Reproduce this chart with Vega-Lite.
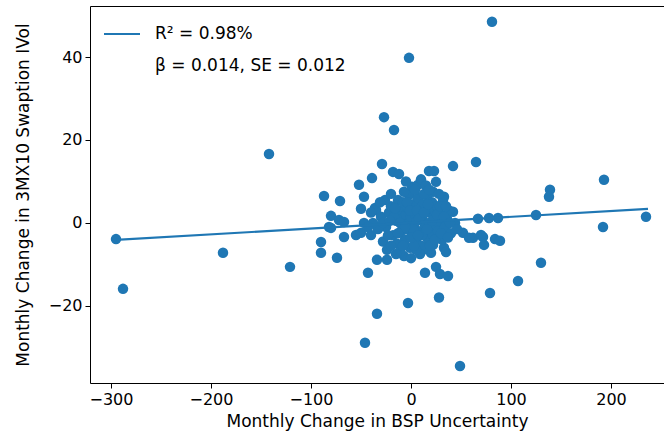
{
  "$schema": "https://vega.github.io/schema/vega-lite/v6.json",
  "autosize": "none",
  "width": 574,
  "height": 377,
  "padding": {"left": 90, "top": 6, "right": 0, "bottom": 56},
  "background": "white",
  "config": {
    "view": {"stroke": null},
    "axis": {
      "labelFont": "DejaVu Sans", "labelFontSize": 16, "labelColor": "#000",
      "titleFont": "DejaVu Sans", "titleFontSize": 17, "titleFontWeight": "normal", "titleColor": "#000",
      "tickColor": "#000", "domainColor": "#000", "tickSize": 5, "grid": false
    }
  },
  "datasets": {
    "pts": [
      {"x": 81, "y": 48.5}, {"x": -2, "y": 39.8}, {"x": -142, "y": 16.6}, {"x": -27, "y": 25.5},
      {"x": -17, "y": 22.4}, {"x": 65, "y": 14.7}, {"x": 42, "y": 13.7}, {"x": -29, "y": 14.2},
      {"x": 193, "y": 10.4}, {"x": 139, "y": 8.0}, {"x": 138, "y": 6.3}, {"x": 125, "y": 1.9},
      {"x": 87, "y": 1.2}, {"x": 235, "y": 1.5}, {"x": 192, "y": -1.0}, {"x": 84, "y": -3.9},
      {"x": 89, "y": -4.3}, {"x": 72, "y": -3.4}, {"x": 73, "y": -5.3}, {"x": 130, "y": -9.6},
      {"x": 107, "y": -14}, {"x": 79, "y": -16.9}, {"x": -295, "y": -3.9}, {"x": -288, "y": -15.9},
      {"x": -188, "y": -7.2}, {"x": -121, "y": -10.6}, {"x": -43, "y": -12}, {"x": -34, "y": -21.9},
      {"x": -46, "y": -28.9}, {"x": -3, "y": -19.3}, {"x": 28, "y": -18}, {"x": 49, "y": -34.5},
      {"x": 14, "y": -12}, {"x": 25, "y": -10.6}, {"x": 29, "y": -12.3}, {"x": 37, "y": -12.8},
      {"x": -90, "y": -4.6}, {"x": -90, "y": -7.2}, {"x": -74, "y": -8.4}, {"x": -67, "y": -3.4},
      {"x": -34, "y": -8.9}, {"x": -24, "y": -8.9}, {"x": -7, "y": -8}, {"x": -55, "y": -2.9},
      {"x": -50, "y": -2.4}, {"x": -82, "y": -1}, {"x": 62, "y": -3.6}, {"x": 52, "y": -2.4},
      {"x": 33, "y": -6}, {"x": 20, "y": -7.2}, {"x": -18, "y": 12.3}, {"x": -12, "y": 11.8},
      {"x": 18, "y": 12.5}, {"x": 23, "y": 12.5}, {"x": -39, "y": 10.8}, {"x": -52, "y": 9.2},
      {"x": -87, "y": 6.5}, {"x": -71, "y": 5.3}, {"x": -47, "y": 6.3}, {"x": -50, "y": 3.4},
      {"x": 1, "y": 8.7}, {"x": 7, "y": 9.2}, {"x": 25, "y": 9.9}, {"x": 22, "y": 7.5},
      {"x": 33, "y": 6.3}, {"x": 42, "y": 2.7}, {"x": -80, "y": 1.7}, {"x": -72, "y": 0.7},
      {"x": -67, "y": 0.2}, {"x": -80, "y": -1.2}, {"x": -36, "y": 3.6}, {"x": -13, "y": 5.5},
      {"x": -2, "y": 6.7}, {"x": 67, "y": 1.0}, {"x": -35, "y": 3.1}, {"x": -47, "y": 0},
      {"x": -40, "y": -2.9}, {"x": 78, "y": 1.2}, {"x": 58, "y": -3.6}, {"x": 70, "y": -2.9},
      {"x": 12, "y": -6.5}, {"x": 22, "y": -5.3},
      {"x": -30, "y": 1.5}, {"x": -25, "y": -1}, {"x": -22, "y": 2.5}, {"x": -20, "y": 4},
      {"x": -18, "y": -3}, {"x": -15, "y": 0.5}, {"x": -14, "y": -5}, {"x": -12, "y": 3},
      {"x": -10, "y": -2}, {"x": -9, "y": 1}, {"x": -8, "y": 5}, {"x": -6, "y": -4},
      {"x": -5, "y": 2}, {"x": -4, "y": -1.5}, {"x": -3, "y": 3.5}, {"x": -2, "y": 0},
      {"x": -1, "y": -6}, {"x": 0, "y": 1.5}, {"x": 1, "y": -3}, {"x": 2, "y": 4.5},
      {"x": 3, "y": -1}, {"x": 4, "y": 2}, {"x": 5, "y": -4.5}, {"x": 6, "y": 0.5},
      {"x": 7, "y": 6}, {"x": 8, "y": -2}, {"x": 9, "y": 3}, {"x": 10, "y": -5.5},
      {"x": 11, "y": 1}, {"x": 12, "y": 4.5}, {"x": 13, "y": -2.5}, {"x": 14, "y": -0.5},
      {"x": 15, "y": 2.5}, {"x": 16, "y": 6.5}, {"x": 17, "y": -4}, {"x": 18, "y": 0},
      {"x": 19, "y": 3.5}, {"x": 20, "y": -1.5}, {"x": 21, "y": 5}, {"x": 22, "y": -3},
      {"x": 23, "y": 1.5}, {"x": 24, "y": 3}, {"x": 25, "y": -0.5}, {"x": 26, "y": 4},
      {"x": 27, "y": -2}, {"x": 28, "y": 0.5}, {"x": 30, "y": 2}, {"x": 31, "y": -4},
      {"x": 32, "y": 5.5}, {"x": 34, "y": -1}, {"x": 36, "y": 1}, {"x": 38, "y": 3},
      {"x": 40, "y": -2.5}, {"x": -28, "y": -4.5}, {"x": -26, "y": 5.5}, {"x": -24, "y": -6.5},
      {"x": -20, "y": 7}, {"x": -17, "y": 1.5}, {"x": -11, "y": -7}, {"x": -7, "y": 7.5},
      {"x": 0, "y": -8.5}, {"x": 4, "y": 8}, {"x": 9, "y": -7.5}, {"x": 13, "y": 7},
      {"x": -33, "y": -1.5}, {"x": -31, "y": 5}, {"x": -38, "y": 0}, {"x": -40, "y": 2.5},
      {"x": -43, "y": -1}, {"x": 44, "y": 0}, {"x": 46, "y": -1.5}, {"x": 10, "y": 10.5},
      {"x": -5, "y": 10}, {"x": 15, "y": 9}, {"x": 35, "y": -7}, {"x": -15, "y": -7.5},
      {"x": -20, "y": -5.5}, {"x": 5, "y": -6.5},
      {"x": -28, "y": 0}, {"x": -23, "y": -3}, {"x": -16, "y": 3.5}, {"x": -11, "y": 0},
      {"x": -8, "y": -5.5}, {"x": -4, "y": 5}, {"x": -1, "y": 3}, {"x": 2, "y": -1.5},
      {"x": 3, "y": -5.5}, {"x": 6, "y": 3}, {"x": 8, "y": 1}, {"x": 11, "y": -3},
      {"x": 13, "y": 2.5}, {"x": 16, "y": -1.5}, {"x": 17, "y": 4.5}, {"x": 19, "y": -5.5},
      {"x": 21, "y": 0.5}, {"x": 24, "y": -4}, {"x": 26, "y": 2}, {"x": 29, "y": 4},
      {"x": 30, "y": -2.5}, {"x": 33, "y": 1.5}, {"x": 35, "y": 4}, {"x": 37, "y": -3.5},
      {"x": -6, "y": -1}, {"x": 0, "y": -3.5}, {"x": 7, "y": -3}, {"x": -13, "y": -2.5},
      {"x": 18, "y": 8}, {"x": -21, "y": 0.5}, {"x": 28, "y": 7}, {"x": 39, "y": 0}
    ],
    "fit": [
      {"x": -295, "y": -4.1, "label": "R² = 0.98%"},
      {"x": 237, "y": 3.4, "label": "R² = 0.98%"}
    ]
  },
  "resolve": {"axis": {"x": "independent", "y": "independent"}},
  "layer": [
    {
      "data": {"name": "pts"},
      "mark": {"type": "circle", "size": 110, "color": "#1f77b4", "opacity": 1},
      "encoding": {
        "x": {"field": "x", "type": "quantitative",
              "scale": {"domain": [-321, 253], "nice": false, "zero": false},
              "axis": {"values": [-300, -200, -100, 0, 100, 200], "title": "Monthly Change in BSP Uncertainty", "labelPadding": 3, "titlePadding": 6}},
        "y": {"field": "y", "type": "quantitative",
              "scale": {"domain": [-38.6, 52.3], "nice": false, "zero": false},
              "axis": {"values": [-20, 0, 20, 40], "title": "Monthly Change in 3MX10 Swaption IVol", "labelPadding": 3, "titlePadding": 16}}
      }
    },
    {
      "data": {"name": "fit"},
      "mark": {"type": "line", "strokeWidth": 2.2},
      "encoding": {
        "x": {"field": "x", "type": "quantitative",
              "scale": {"domain": [-321, 253], "nice": false, "zero": false},
              "axis": {"orient": "top", "labels": false, "ticks": false, "title": null, "domain": true}},
        "y": {"field": "y", "type": "quantitative",
              "scale": {"domain": [-38.6, 52.3], "nice": false, "zero": false},
              "axis": null},
        "color": {"field": "label", "type": "nominal",
                  "scale": {"domain": ["R² = 0.98%", "β = 0.014, SE = 0.012"], "range": ["#1f77b4", "rgba(0,0,0,0)"]},
                  "legend": {"title": null, "orient": "none", "legendX": 22, "legendY": 18,
                             "symbolType": "M-2,0H2", "symbolSize": 324, "symbolStrokeWidth": 2,
                             "labelFont": "DejaVu Sans", "labelFontSize": 17, "labelColor": "#000",
                             "labelLimit": 400,
                             "labelOffset": 23, "rowPadding": 14, "padding": 0}}
      }
    }
  ]
}
